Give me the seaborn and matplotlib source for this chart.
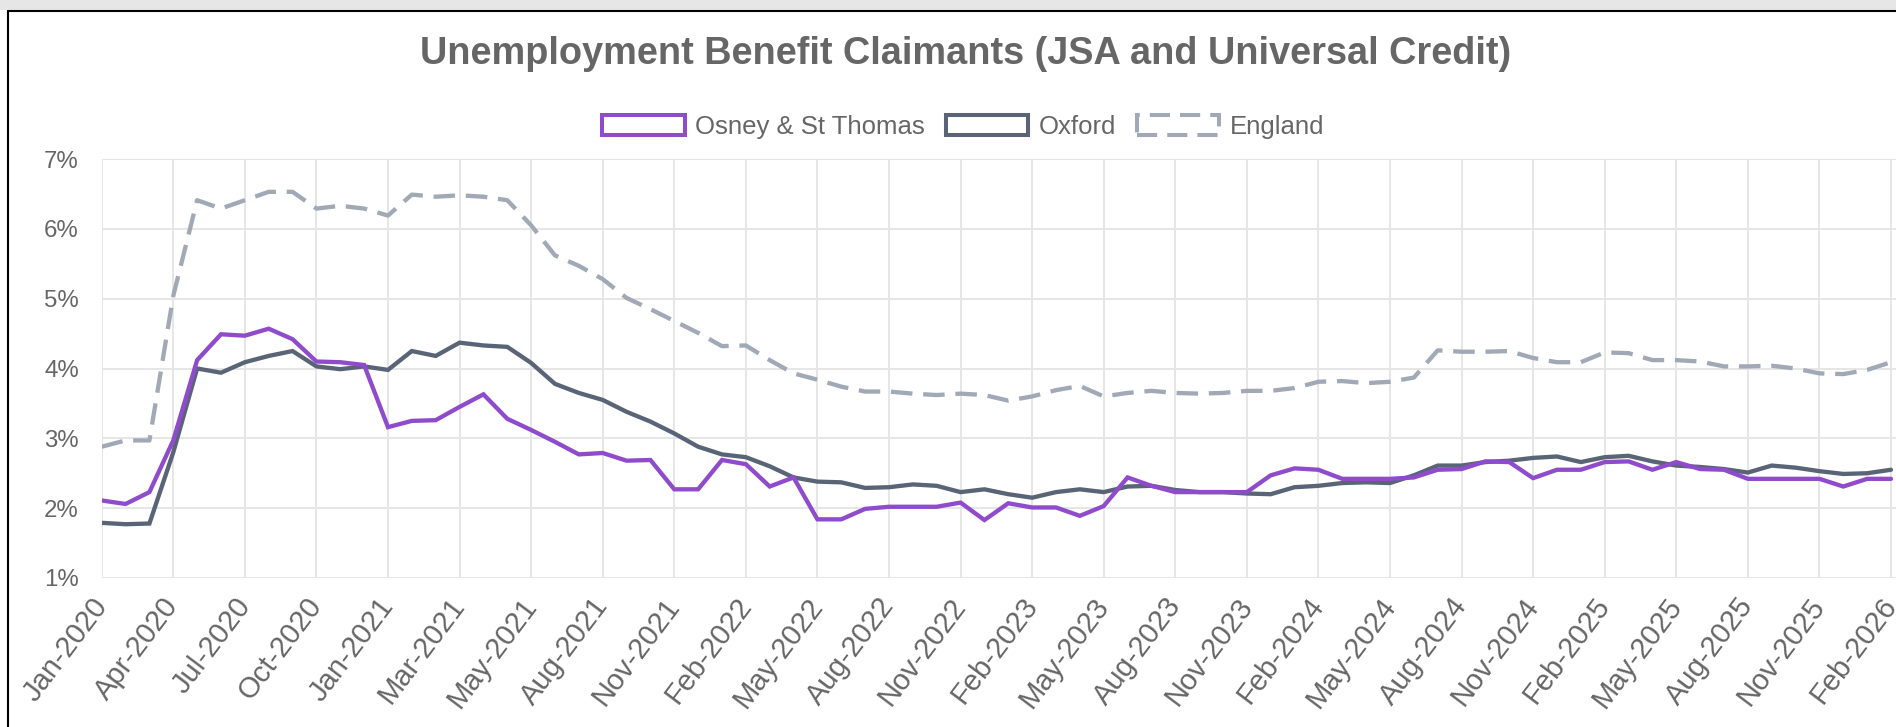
import numpy as np
import pandas as pd
import seaborn as sns
import matplotlib.pyplot as plt
from matplotlib.patches import Rectangle
from matplotlib.lines import Line2D

# Monthly claimant rate (%), one value per category on the x axis
osney = [2.11, 2.06, 2.23, 2.97, 4.12, 4.49, 4.47, 4.57, 4.42, 4.10, 4.09, 4.05, 3.16, 3.25, 3.26, 3.45,
         3.63, 3.28, 3.12, 2.95, 2.77, 2.79, 2.68, 2.69, 2.27, 2.27, 2.69, 2.63, 2.31, 2.44, 1.84,
         1.84, 1.99, 2.02, 2.02, 2.02, 2.08, 1.83, 2.07, 2.01, 2.01, 1.89, 2.03, 2.44, 2.32, 2.23,
         2.23, 2.23, 2.23, 2.47, 2.57, 2.55, 2.42, 2.42, 2.42, 2.44, 2.55, 2.56, 2.67, 2.66, 2.43,
         2.55, 2.55, 2.66, 2.67, 2.55, 2.66, 2.56, 2.55, 2.42, 2.42, 2.42, 2.42, 2.31, 2.42, 2.42]
oxford = [1.79, 1.77, 1.78, 2.80, 4.00, 3.94, 4.09, 4.18, 4.25, 4.03, 3.99, 4.03, 3.98, 4.25, 4.18, 4.37,
          4.33, 4.31, 4.08, 3.78, 3.65, 3.55, 3.38, 3.24, 3.07, 2.88, 2.77, 2.73, 2.60, 2.44, 2.38,
          2.37, 2.29, 2.30, 2.34, 2.32, 2.23, 2.27, 2.20, 2.15, 2.23, 2.27, 2.23, 2.31, 2.32, 2.26,
          2.23, 2.23, 2.21, 2.20, 2.30, 2.32, 2.36, 2.37, 2.36, 2.47, 2.61, 2.61, 2.66, 2.68, 2.72,
          2.74, 2.66, 2.73, 2.75, 2.67, 2.61, 2.59, 2.56, 2.51, 2.61, 2.58, 2.53, 2.49, 2.50, 2.55]
england = [2.88, 2.97, 2.97, 5.04, 6.41, 6.29, 6.41, 6.53, 6.53, 6.29, 6.33, 6.29, 6.19, 6.49, 6.46, 6.48,
           6.46, 6.41, 6.05, 5.62, 5.47, 5.28, 5.01, 4.85, 4.68, 4.51, 4.32, 4.33, 4.12, 3.93, 3.84,
           3.74, 3.67, 3.67, 3.64, 3.62, 3.64, 3.62, 3.54, 3.60, 3.69, 3.75, 3.60, 3.65, 3.68, 3.65,
           3.64, 3.65, 3.68, 3.68, 3.72, 3.81, 3.82, 3.79, 3.81, 3.87, 4.26, 4.24, 4.24, 4.25, 4.15,
           4.09, 4.09, 4.23, 4.22, 4.12, 4.12, 4.10, 4.03, 4.03, 4.04, 4.00, 3.93, 3.92, 3.98, 4.09]

series_names = ['Osney & St Thomas', 'Oxford', 'England']

# labels shown on the axis (every third category)
tick_labels = ['Jan-2020', 'Apr-2020', 'Jul-2020', 'Oct-2020', 'Jan-2021', 'Mar-2021',
               'May-2021', 'Aug-2021', 'Nov-2021', 'Feb-2022', 'May-2022', 'Aug-2022',
               'Nov-2022', 'Feb-2023', 'May-2023', 'Aug-2023', 'Nov-2023', 'Feb-2024',
               'May-2024', 'Aug-2024', 'Nov-2024', 'Feb-2025', 'May-2025', 'Aug-2025',
               'Nov-2025', 'Feb-2026']
y_ticks = [1, 2, 3, 4, 5, 6, 7]

colors = {'Osney & St Thomas': '#8f4bcc', 'Oxford': '#596477', 'England': '#a1a9b6'}
dashes = {'Osney & St Thomas': '', 'Oxford': '', 'England': (5, 2.5)}

n = len(osney)
df = pd.DataFrame({
    'idx': np.tile(np.arange(n), 3),
    'value': osney + oxford + england,
    'area': np.repeat(series_names, n),
})

sns.set_theme(style='white')
plt.rcParams['font.family'] = ['Liberation Sans', 'DejaVu Sans']

W, H = 1896, 727
fig = plt.figure(figsize=(W / 100, H / 100), dpi=100)
fig.patch.set_facecolor('white')

left_px, top_px, bottom_px = 101.7, 159, 578
ax = fig.add_axes([left_px / W, 1 - bottom_px / H, 1 - left_px / W, (bottom_px - top_px) / H])

# England drawn first so the local lines sit on top
for name in ['England', 'Oxford', 'Osney & St Thomas']:
    sns.lineplot(data=df[df['area'] == name], x='idx', y='value', color=colors[name],
                 linewidth=3.1, ax=ax, legend=False, errorbar=None, sort=False,
                 dashes=dashes[name] if dashes[name] else (None, None))

for ln in ax.get_lines():
    ln.set_solid_joinstyle('miter')
    ln.set_dash_capstyle('butt')

grid_c = '#e6e6e6'
ax.set_xlim(0, n - 1 + 5 / 23.83)
ax.set_ylim(1, 7)
ax.set_xticks(range(0, n, 3))
ax.set_xticklabels(tick_labels)
ax.set_yticks(y_ticks)
ax.set_yticklabels([f'{v}%' for v in y_ticks])
ax.set_xlabel('')
ax.set_ylabel('')
ax.grid(True, color=grid_c, linewidth=1.44)
ax.set_axisbelow(True)
for s in ax.spines.values():
    s.set_visible(False)
ax.tick_params(axis='both', length=11.5, width=1.44, color=grid_c,
               labelcolor='#666666', labelsize=17.3)
ax.tick_params(axis='y', pad=5)
ax.tick_params(axis='x', pad=5, labelsize=21)
plt.setp(ax.get_xticklabels(), rotation=53, ha='right', va='center', rotation_mode='anchor')

fig.text(0.5095, 1 - 53.5 / H, 'Unemployment Benefit Claimants (JSA and Universal Credit)',
         ha='center', va='center', fontsize=27.3, fontweight='bold', color='#666666')

handles = [Rectangle((0, 0), 1, 1, facecolor='white', edgecolor=colors[nm], linewidth=2.9,
                     linestyle=(0, (5, 2.5)) if dashes[nm] else '-') for nm in series_names]
fig.legend(handles, series_names, loc='center', bbox_to_anchor=(0.508, 1 - 127 / H),
           ncol=3, frameon=False, fontsize=18.5, handlelength=3.2, handleheight=0.85,
           handletextpad=0.42, columnspacing=0.8, labelcolor='#666666')

# page chrome: grey strip on top, black frame on the left and top
fig.add_artist(Rectangle((0, 1 - 10 / H), 1, 10 / H, transform=fig.transFigure,
                         facecolor='#e6e6e6', edgecolor='none'))
fig.add_artist(Line2D([7.5 / W, 1], [1 - 11 / H] * 2, transform=fig.transFigure,
                      color='black', linewidth=1.5))
fig.add_artist(Line2D([7.5 / W] * 2, [0, 1 - 11 / H], transform=fig.transFigure,
                      color='black', linewidth=1.5))

fig.savefig('out.png', dpi=100, facecolor='white')
